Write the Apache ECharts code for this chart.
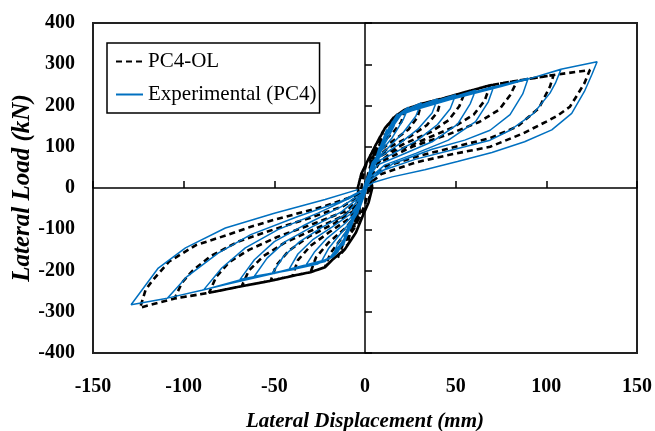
<!DOCTYPE html>
<html><head><meta charset="utf-8">
<script src="https://cdn.jsdelivr.net/npm/echarts@6/dist/echarts.min.js"></script>
<style>html,body{margin:0;padding:0;background:#fff}#c{width:655px;height:431px}</style>
</head><body><div id="c"></div>
<script>
// ---------------- DATA (displacement mm, load kN) ----------------
const seriesNames = ['PC4-OL', 'Experimental (PC4)'];
const xRange = [-150, 150, 50];
const yRange = [-400, 400, 100];

// Experimental (PC4) cycles
const expC1 = [[0,0],[2,24],[5,62],[4,42],[2,20],[0,4],[-2,-24],[-5,-60],[-4,-40],[-2,-18],[0,-2]];
const expC2 = [[3,34],[6,72],[8,100],[7,74],[4,42],[1,12],[-2,-22],[-5,-62],[-8,-98],[-7,-72],[-4,-40],[-1,-10]];
const expC3 = [[3,32],[7,84],[10,118],[12,142],[11,114],[8,80],[4,44],[1,12],[-3,-30],[-7,-80],[-10,-116],[-12,-140],[-11,-110],[-7,-72],[-3,-36],[0,-6]];
const expC4 = [[4,44],[9,104],[13,145],[16,166],[18,180],[16,150],[12,116],[8,86],[4,54],[1,16],[-3,-30],[-7,-84],[-11,-126],[-15,-155],[-18,-168],[-15,-134],[-9,-96],[-4,-60],[-1,-16]];
const expC5 = [[4,46],[10,114],[15,160],[19,180],[24,196],[21,165],[15,122],[9,90],[4,62],[1,20],[-3,-34],[-8,-92],[-13,-140],[-18,-166],[-24,-178],[-20,-146],[-13,-108],[-6,-72],[-1,-22]];
const expC6 = [[5,52],[11,122],[16,166],[22,188],[31,206],[28,174],[21,134],[12,94],[5,66],[1,22],[-4,-44],[-10,-110],[-15,-152],[-22,-178],[-33,-190],[-28,-156],[-21,-122],[-11,-86],[-3,-50],[0,-14]];
const expC7 = [[5,54],[11,120],[17,170],[25,194],[33,205],[40,216],[37,182],[29,142],[18,104],[8,74],[2,30],[-4,-44],[-10,-110],[-16,-160],[-24,-180],[-33,-190],[-42,-198],[-37,-160],[-29,-126],[-18,-94],[-7,-60],[-1,-18]];
const expC8 = [[5,52],[12,128],[18,174],[27,196],[38,210],[50,226],[47,192],[40,154],[29,116],[15,82],[5,60],[1,24],[-4,-42],[-10,-112],[-17,-164],[-26,-184],[-38,-196],[-51,-206],[-45,-166],[-36,-130],[-24,-96],[-10,-62],[-2,-20]];
const expC9 = [[5,54],[12,126],[19,176],[30,198],[45,216],[61,237],[58,204],[51,154],[37,112],[20,80],[7,56],[1,20],[-4,-44],[-11,-120],[-18,-168],[-30,-188],[-45,-202],[-61,-214],[-54,-170],[-44,-130],[-30,-96],[-13,-58],[-2,-18]];
const expC10 = [[5,52],[12,128],[20,178],[35,202],[53,224],[71,246],[68,209],[61,161],[46,116],[28,84],[11,56],[2,22],[-4,-46],[-11,-120],[-19,-170],[-33,-190],[-51,-206],[-69,-222],[-61,-174],[-50,-130],[-33,-89],[-13,-45],[-2,-14]];
const expC11 = [[5,52],[12,130],[20,180],[40,208],[65,238],[90,266],[87,228],[80,178],[69,140],[55,116],[37,94],[15,58],[3,20],[-4,-44],[-12,-128],[-20,-172],[-40,-198],[-65,-218],[-89,-247],[-79,-194],[-66,-145],[-48,-101],[-26,-61],[-8,-24],[-1,-6]];
const expC12 = [[5,50],[12,128],[20,180],[45,212],[75,246],[90,264],[108,287],[105,254],[102,230],[93,181],[80,140],[69,116],[55,100],[28,70],[8,40],[1,10],[-5,-50],[-12,-130],[-20,-172],[-45,-202],[-75,-232],[-90,-248],[-109,-267],[-98,-214],[-81,-158],[-63,-113],[-37,-69],[-13,-32],[-1,-4]];
const expC13 = [[5,50],[12,128],[20,180],[50,218],[90,264],[108,288],[128,306],[125,274],[121,234],[114,181],[103,141],[88,112],[70,86],[51,64],[33,44],[15,27],[5,14],[0,0],[-5,-52],[-12,-132],[-20,-172],[-50,-206],[-89,-247],[-109,-267],[-129,-283],[-114,-194],[-99,-145],[-77,-97],[-50,-61],[-22,-28],[-4,-4]];

// PC4-OL cycles
const olC1 = [[0,0],[2,40],[4,70],[6,94],[5,66],[3,36],[2,0],[0,-40],[-3,-70],[-6,-94],[-5,-66],[-3,-36],[-2,0]];
const olC2 = [[-1,30],[1,62],[6,105],[10,138],[8,106],[5,74],[3,40],[3,0],[2,-35],[-1,-65],[-5,-108],[-10,-140],[-8,-106],[-5,-74],[-3,-40],[-4,0]];
const olC3 = [[-2,35],[1,62],[6,105],[11,145],[16,172],[13,140],[8,112],[3,80],[3,40],[4,0],[2,-35],[-1,-65],[-5,-108],[-11,-148],[-15,-168],[-12,-135],[-6,-98],[-3,-70],[-3,-36],[-4,0]];
const olC4 = [[-2,35],[1,62],[6,105],[11,145],[17,175],[22,190],[20,160],[15,132],[8,105],[3,70],[3,36],[4,0],[2,-35],[-1,-65],[-5,-108],[-11,-148],[-18,-174],[-22,-190],[-19,-158],[-13,-122],[-6,-88],[-3,-55],[-3,-28],[-4,0]];
const olC5 = [[-2,35],[1,62],[6,105],[11,145],[17,175],[22,190],[31,204],[29,172],[24,142],[16,116],[7,88],[3,55],[3,28],[4,0],[2,-35],[-1,-65],[-5,-108],[-11,-148],[-18,-174],[-22,-192],[-30,-204],[-27,-168],[-20,-132],[-11,-98],[-4,-62],[-3,-30],[-4,0]];
const olC6 = [[-2,35],[1,62],[6,105],[11,145],[17,175],[22,190],[31,204],[42,216],[40,184],[34,152],[25,125],[13,98],[4,64],[3,30],[4,0],[2,-35],[-1,-65],[-5,-108],[-11,-148],[-18,-174],[-22,-192],[-30,-204],[-40,-213],[-37,-175],[-30,-140],[-20,-108],[-8,-72],[-3,-40],[-4,0]];
const olC7 = [[-2,35],[1,62],[6,105],[11,145],[17,175],[22,190],[31,204],[42,216],[55,232],[52,198],[46,164],[36,135],[22,108],[8,76],[3,40],[4,0],[2,-35],[-1,-65],[-5,-108],[-11,-148],[-18,-174],[-22,-192],[-30,-204],[-40,-213],[-52,-225],[-49,-188],[-42,-152],[-31,-118],[-17,-86],[-5,-52],[-3,-25],[-4,0]];
const olC8 = [[-2,35],[1,62],[6,105],[11,145],[17,175],[22,190],[31,204],[42,216],[55,232],[69,249],[66,212],[60,178],[49,148],[33,118],[15,86],[4,52],[3,20],[4,0],[2,-35],[-1,-65],[-5,-108],[-11,-148],[-18,-174],[-22,-192],[-30,-204],[-40,-213],[-52,-225],[-68,-238],[-64,-200],[-56,-165],[-44,-132],[-28,-100],[-12,-68],[-3,-35],[-4,0]];
const olC9 = [[-2,35],[1,62],[6,105],[11,145],[17,175],[22,190],[31,204],[42,216],[55,232],[69,249],[84,260],[80,225],[74,190],[63,160],[46,130],[26,100],[8,62],[3,25],[4,0],[2,-35],[-1,-65],[-5,-108],[-11,-148],[-18,-174],[-22,-192],[-30,-204],[-40,-213],[-52,-225],[-68,-238],[-86,-254],[-82,-215],[-75,-180],[-64,-150],[-48,-118],[-28,-86],[-10,-55],[-3,-25],[-4,0]];
const olC10 = [[-2,35],[1,62],[6,105],[11,145],[17,175],[22,190],[31,204],[42,216],[55,232],[69,249],[84,260],[104,274],[102,246],[96,194],[84,149],[69,121],[50,100],[30,78],[11,52],[3,22],[4,0],[2,-35],[-1,-65],[-5,-108],[-11,-148],[-18,-174],[-22,-192],[-30,-204],[-40,-213],[-52,-225],[-68,-238],[-86,-254],[-105,-268],[-101,-230],[-95,-200],[-85,-165],[-70,-130],[-50,-100],[-30,-72],[-12,-44],[-3,-18],[-4,0]];
const olC11 = [[-2,35],[1,62],[6,105],[11,145],[17,175],[22,190],[31,204],[42,216],[55,232],[69,249],[84,260],[104,274],[124,286],[121,254],[117,225],[113,197],[106,175],[100,161],[87,132],[69,100],[46,80],[28,62],[9,34],[3,12],[4,0],[2,-35],[-1,-65],[-5,-108],[-11,-148],[-18,-174],[-22,-192],[-30,-204],[-40,-213],[-52,-225],[-68,-238],[-86,-254],[-105,-268],[-124,-290],[-121,-247],[-117,-223],[-108,-178],[-93,-138],[-76,-114],[-63,-94],[-50,-77],[-22,-44],[-4,-16]];

const expCycles = [expC1,expC2,expC3,expC4,expC5,expC6,expC7,expC8,expC9,expC10,expC11,expC12,expC13];
const olCycles = [olC1,olC2,olC3,olC4,olC5,olC6,olC7,olC8,olC9,olC10,olC11];

// ---------------- CHART ----------------
const FONT = "'Times New Roman','Liberation Serif',serif";
const chart = echarts.init(document.getElementById('c'), null, {renderer: 'canvas'});
const labelStyle = {fontFamily: FONT, fontWeight: 'bold', fontSize: 20, color: '#000'};
chart.setOption({
  animation: false,
  backgroundColor: '#fff',
  grid: {left: 93, right: 18, top: 23, bottom: 78, show: true, borderColor: '#222', borderWidth: 2,
         backgroundColor: 'transparent', containLabel: false, outerBoundsMode: 'none'},
  legend: {
    orient: 'vertical', left: 107, top: 43,
    borderColor: '#000', borderWidth: 1.5, padding: [8, 3, 8, 8],
    itemGap: 12, itemWidth: 27, itemHeight: 14, itemTextGap: 3,
    itemStyle: {color: 'rgba(0,0,0,0)', borderWidth: 0, opacity: 0},
    textStyle: {fontFamily: FONT, fontSize: 21, color: '#000'},
    data: seriesNames
  },
  xAxis: [
    {type: 'value', min: xRange[0], max: xRange[1], interval: xRange[2],
     axisLine: {onZero: true, lineStyle: {color: '#000', width: 1.5}},
     axisTick: {inside: true, length: 7, lineStyle: {color: '#000', width: 1.5}},
     axisLabel: {show: false}, splitLine: {show: false}},
    {type: 'value', position: 'bottom', min: xRange[0], max: xRange[1], interval: xRange[2],
     axisLine: {show: false, onZero: false}, axisTick: {show: false}, splitLine: {show: false},
     axisLabel: Object.assign({margin: 24}, labelStyle),
     name: 'Lateral Displacement (mm)', nameLocation: 'middle', nameGap: 58, nameMoveOverlap: false,
     nameTextStyle: {fontFamily: FONT, fontWeight: 'bold', fontStyle: 'italic', fontSize: 21, color: '#000'}}
  ],
  yAxis: [
    {type: 'value', min: yRange[0], max: yRange[1], interval: yRange[2],
     axisLine: {onZero: true, lineStyle: {color: '#000', width: 1.5}},
     axisTick: {inside: true, length: 7, lineStyle: {color: '#000', width: 1.5}},
     axisLabel: {show: false}, splitLine: {show: false}},
    {type: 'value', position: 'left', min: yRange[0], max: yRange[1], interval: yRange[2],
     axisLine: {show: false, onZero: false}, axisTick: {show: false}, splitLine: {show: false},
     axisLabel: Object.assign({margin: 18}, labelStyle),
     name: 'Lateral Load (kN)', nameLocation: 'middle', nameGap: 58, nameMoveOverlap: false,
     nameTextStyle: {fontFamily: FONT, fontWeight: 'bold', fontStyle: 'italic', fontSize: 25, color: '#000'}}
  ],
  series: [
    {name: seriesNames[0], type: 'line', xAxisIndex: 0, yAxisIndex: 0, symbol: 'none', smooth: false,
     data: [].concat(...olCycles),
     lineStyle: {color: '#000', width: 2.6, type: [6, 4]}, itemStyle: {color: '#000'}},
    {name: seriesNames[1], type: 'line', xAxisIndex: 0, yAxisIndex: 0, symbol: 'none', smooth: false,
     data: [].concat(...expCycles),
     lineStyle: {color: '#0070C0', width: 1.5}, itemStyle: {color: '#0070C0'}}
  ]
});
</script></body></html>
